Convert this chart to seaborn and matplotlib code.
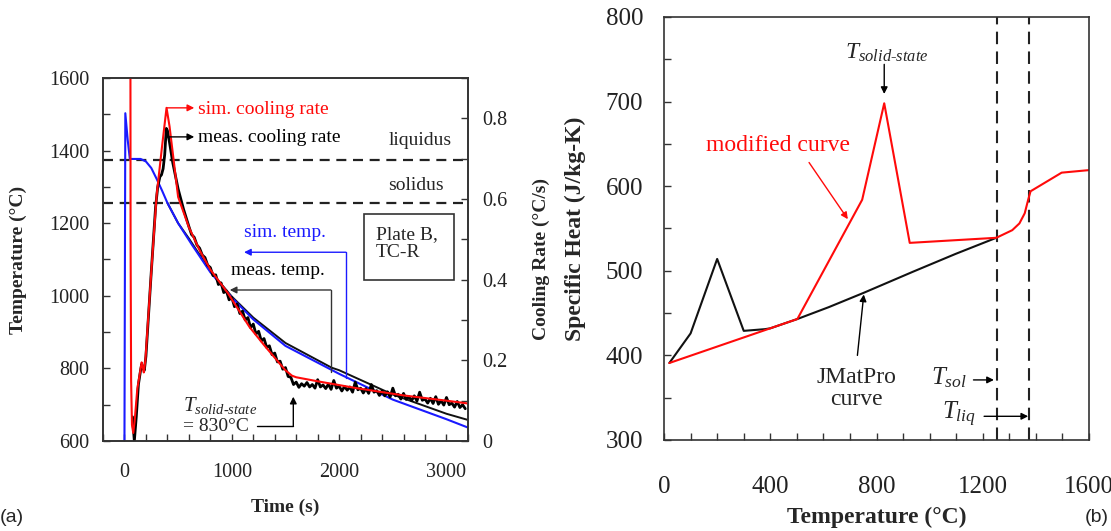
import numpy as np
import pandas as pd
import matplotlib
matplotlib.use("Agg")
import matplotlib.pyplot as plt
import seaborn as sns
from matplotlib.ticker import MultipleLocator, FuncFormatter
from matplotlib.patches import Rectangle

sns.set_theme(style="ticks")
plt.rcParams['font.family'] = ['Liberation Serif', 'DejaVu Serif']
plt.rcParams['mathtext.fontset'] = 'custom'
plt.rcParams['mathtext.rm'] = 'Liberation Serif'
plt.rcParams['mathtext.it'] = 'Liberation Serif:italic'
plt.rcParams['mathtext.bf'] = 'Liberation Serif:bold'

# ---------------- Panel (a) data ----------------
solidus_T = 1255
liquidus_T = 1375

sim_temp_t = [0, 8, 30, 50, 150, 200, 250, 300, 350, 400, 500, 630, 800, 1000,
              1200, 1500, 2000, 2500, 3000, 3200]
sim_temp_T = [600, 1503, 1430, 1377, 1377, 1370, 1352, 1322, 1290, 1256, 1200,
              1140, 1065, 995, 935, 862, 785, 714, 660, 637]

meas_temp_t = [400, 500, 600, 800, 1000, 1200, 1500, 1930, 2000, 2500, 3000, 3200]
meas_temp_T = [1256, 1200, 1158, 1068, 998, 940, 870, 802, 795, 728, 675, 658]

sim_rate_t = [54, 57, 62, 70, 82, 95, 120, 145, 160, 170, 180, 195, 250, 300,
              350, 392, 420, 500, 600, 700, 800, 965, 1164, 1300, 1497, 1560,
              1600, 1800, 2162, 2600, 3000, 3200]
sim_rate = [1.5, 0.5, 0.15, 0.04, 0.02, 0.05, 0.13, 0.17, 0.195, 0.185, 0.17,
            0.20, 0.42, 0.61, 0.73, 0.826, 0.78, 0.605, 0.53, 0.473, 0.425,
            0.366, 0.283, 0.238, 0.176, 0.162, 0.158, 0.148, 0.131, 0.113,
            0.100, 0.093]

meas_rate_early_t = [75, 92, 110, 130, 150, 160, 170, 185, 200, 250, 290, 310,
                     330, 345, 360, 375, 390, 400, 420, 450, 500, 550]
meas_rate_early = [0.06, 0.0, 0.06, 0.14, 0.175, 0.19, 0.18, 0.175, 0.21, 0.42,
                   0.58, 0.63, 0.655, 0.66, 0.675, 0.71, 0.775, 0.77, 0.74,
                   0.69, 0.625, 0.575]
meas_rate_late_t = list(range(600, 3200, 25))
meas_rate_late = [0.532, 0.512, 0.505, 0.486, 0.478, 0.461, 0.455, 0.436, 0.430,
                  0.410, 0.412, 0.388, 0.392, 0.368, 0.372, 0.350, 0.356, 0.333,
                  0.340, 0.316, 0.322, 0.300, 0.306, 0.281, 0.290, 0.265, 0.272,
                  0.248, 0.254, 0.232, 0.236, 0.214, 0.218, 0.196, 0.198, 0.178,
                  0.182, 0.160, 0.158, 0.140, 0.146, 0.133, 0.142, 0.136, 0.145,
                  0.134, 0.140, 0.131, 0.152, 0.134, 0.139, 0.130, 0.141, 0.128,
                  0.150, 0.131, 0.136, 0.124, 0.135, 0.126, 0.134, 0.121, 0.146,
                  0.127, 0.131, 0.119, 0.130, 0.118, 0.140, 0.121, 0.125, 0.113,
                  0.124, 0.112, 0.122, 0.109, 0.131, 0.112, 0.116, 0.104, 0.118,
                  0.103, 0.110, 0.100, 0.112, 0.099, 0.121, 0.101, 0.104, 0.094,
                  0.106, 0.093, 0.110, 0.091, 0.100, 0.089, 0.108, 0.090, 0.094,
                  0.084, 0.098, 0.083, 0.090, 0.080]
meas_rate_t = meas_rate_early_t + meas_rate_late_t
meas_rate = meas_rate_early + meas_rate_late

# ---------------- Panel (b) data ----------------
jmat_T = [20, 100, 200, 300, 380, 400, 502, 620, 752, 938, 1098, 1251]
jmat_cp = [391, 426, 514, 429, 431, 432, 443, 457, 474, 499, 520, 539]

mod_T = [20, 400, 502, 746, 829, 925, 1251, 1311, 1338, 1358, 1371, 1380, 1497, 1600]
mod_cp = [391, 432, 443, 584, 698, 533, 539, 548, 556, 568, 584, 594, 616, 619]

RED = '#ff0a0a'
BLUE = '#1a1aff'
SPINE = '#333333'

fig = plt.figure(figsize=(11.11, 5.31), dpi=100)
ax = fig.add_axes([0.0927, 0.1695, 0.3285, 0.6836])
ax2 = ax.twinx()
axb = fig.add_axes([0.5977, 0.1714, 0.3825, 0.7966])

# ---- panel (a) lines ----
ax.axhline(liquidus_T, color='#222222', lw=1.6, ls=(0, (4.5, 3)))
ax.axhline(solidus_T, color='#222222', lw=1.6, ls=(0, (4.5, 3)))
sns.lineplot(x=meas_temp_t, y=meas_temp_T, ax=ax, color='#111111', lw=1.4,
             estimator=None, sort=False)
sns.lineplot(x=sim_temp_t, y=sim_temp_T, ax=ax, color=BLUE, lw=1.5,
             estimator=None, sort=False)
sns.lineplot(x=meas_rate_t, y=meas_rate, ax=ax2, color='black', lw=2.0,
             estimator=None, sort=False)
sns.lineplot(x=sim_rate_t, y=sim_rate, ax=ax2, color=RED, lw=1.5,
             estimator=None, sort=False)

ax.set_xlim(-200, 3200)
ax.set_ylim(600, 1600)
ax2.set_ylim(0, 0.9)
ax.set_xticks([0, 1000, 2000, 3000])
ax.xaxis.set_minor_locator(MultipleLocator(200))
ax.set_yticks(range(600, 1601, 200))
ax.yaxis.set_minor_locator(MultipleLocator(100))
ax2.set_yticks([0, 0.2, 0.4, 0.6, 0.8])
ax2.yaxis.set_minor_locator(MultipleLocator(0.1))
ax2.yaxis.set_major_formatter(FuncFormatter(lambda v, p: '0' if abs(v) < 1e-9 else f'{v:.1f}'))

for a in (ax, ax2, axb):
    for s in a.spines.values():
        s.set_color(SPINE)
        s.set_linewidth(1.2)
        s.set_visible(True)

ax.tick_params(axis='both', which='both', direction='in', length=5, width=1,
               color=SPINE, top=False, right=False, labelsize=14.5, labelcolor='#222222')
ax.tick_params(axis='x', which='both', pad=16)
ax.tick_params(axis='y', which='both', pad=10)
ax2.tick_params(axis='y', which='both', direction='in', length=5, width=1,
                color=SPINE, labelsize=14.5, labelcolor='#222222', pad=10)

ax.set_xlabel('Time (s)', fontsize=14, fontweight='bold', va='center')
ax.xaxis.set_label_coords(0.5, -0.182)
ax.set_ylabel('Temperature (°C)', fontsize=14, fontweight='bold', va='center')
ax.yaxis.set_label_coords(-0.233, 0.5)
ax2.set_ylabel('Cooling Rate (°C/s)', fontsize=14, fontweight='bold', va='center')
ax2.yaxis.set_label_coords(1.2, 0.5)

def arrow(axis, xy_from, xy_to, color, ms=10):
    axis.annotate('', xy=xy_to, xytext=xy_from,
                  arrowprops=dict(arrowstyle='-|>', color=color, lw=1.0,
                                  mutation_scale=ms, shrinkA=0, shrinkB=0))

# panel (a) annotations
ax2.text(682, 0.823, 'sim. cooling rate', color=RED, fontsize=14, va='center', ha='left')
arrow(ax2, (392, 0.826), (650, 0.826), RED)
ax2.text(682, 0.753, 'meas. cooling rate', color='black', fontsize=14, va='center', ha='left')
arrow(ax2, (399, 0.754), (650, 0.754), 'black')

ax.text(2754, 1427, 'liquidus', fontsize=14, ha='center', va='center')
ax.text(2720, 1303, 'solidus', fontsize=14, ha='center', va='center')
ax.add_patch(Rectangle((2228, 1044), 842, 182, fill=False, ec=SPINE, lw=1.2))
ax.text(2345, 1143, 'Plate B,\nTC-R', fontsize=14, ha='left', va='center', linespacing=1.05)

ax.text(1497, 1175, 'sim. temp.', color=BLUE, fontsize=14, ha='center', va='center')
ax.plot([2062, 2062], [773, 1120], color=BLUE, lw=1.0)
arrow(ax, (2062, 1120), (1114, 1120), BLUE)

ax.text(1430, 1070, 'meas. temp.', color='black', fontsize=14, ha='center', va='center')
ax.plot([1922, 1922], [791, 1016], color='#333333', lw=1.0)
arrow(ax, (1922, 1016), (981, 1016), '#333333')

ax.text(549, 699, r'$T_{solid\text{-}state}$', fontsize=15, ha='left', va='center')
ax.text(549, 641, '= 830°C', fontsize=14, ha='left', va='center')
ax.plot([1231, 1573], [641, 641], color='black', lw=1.0)
arrow(ax, (1573, 641), (1573, 722), 'black')

# ---- panel (b) ----
axb.axvline(solidus_T, color='#222222', lw=1.5, ls=(0, (6, 3.5)))
axb.axvline(liquidus_T, color='#222222', lw=1.5, ls=(0, (6, 3.5)))
sns.lineplot(x=jmat_T, y=jmat_cp, ax=axb, color='#111111', lw=1.5,
             estimator=None, sort=False)
sns.lineplot(x=mod_T, y=mod_cp, ax=axb, color=RED, lw=1.5,
             estimator=None, sort=False)
axb.set_xlim(0, 1600)
axb.set_ylim(300, 800)
axb.set_xticks([0, 400, 800, 1200, 1600])
axb.xaxis.set_minor_locator(MultipleLocator(100))
axb.set_yticks(range(300, 801, 100))
axb.yaxis.set_minor_locator(MultipleLocator(50))
axb.tick_params(axis='both', which='both', direction='in', length=5, width=1,
                color=SPINE, top=False, right=False, labelsize=18, labelcolor='#222222')
axb.tick_params(axis='x', which='both', pad=26)
axb.tick_params(axis='y', which='both', pad=15)
axb.set_xlabel('Temperature (°C)', fontsize=17, fontweight='bold', va='center')
axb.xaxis.set_label_coords(0.5, -0.184)
axb.set_ylabel('Specific Heat (J/kg-K)', fontsize=17, fontweight='bold', va='center')
axb.yaxis.set_label_coords(-0.209, 0.5)

axb.text(839, 758, r'$T_{solid\text{-}state}$', fontsize=17, ha='center', va='center')
arrow(axb, (829, 744), (829, 709), 'black')
axb.text(430, 648, 'modified curve', color=RED, fontsize=17, ha='center', va='center')
arrow(axb, (546, 628), (692, 561), RED)
axb.text(723, 361, 'JMatPro\ncurve', fontsize=17, ha='center', va='center', linespacing=1.1)
arrow(axb, (728, 400), (752, 472), 'black')
axb.text(1072, 374, r'$T_{sol}$', fontsize=18, ha='center', va='center')
arrow(axb, (1165, 371), (1242, 371), 'black')
axb.text(1111, 330, r'$T_{liq}$', fontsize=18, ha='center', va='center')
arrow(axb, (1205, 328), (1371, 328), 'black')

fig.text(0.0108, 0.0245, '(a)', fontsize=14, family='Liberation Sans', ha='center', va='center')
fig.text(0.9874, 0.0245, '(b)', fontsize=14, family='Liberation Sans', ha='center', va='center')

fig.savefig('out.png', dpi=100)
